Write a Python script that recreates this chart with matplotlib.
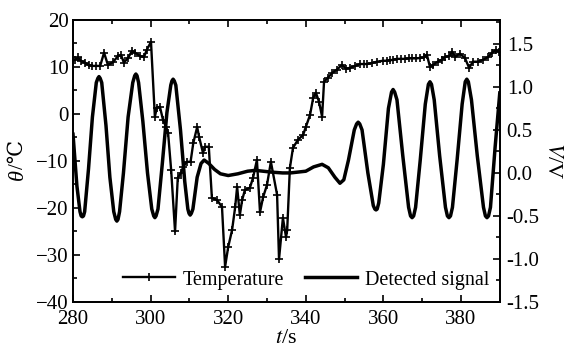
import matplotlib
matplotlib.use("Agg")
import matplotlib.pyplot as plt
from matplotlib.ticker import MultipleLocator, FormatStrFormatter

plt.rcParams['font.family'] = ['Liberation Serif', 'DejaVu Serif']
plt.rcParams['mathtext.fontset'] = 'stix'
plt.rcParams['axes.unicode_minus'] = True

# Temperature (left axis, degC)
temp_t = [280.5, 281.3, 282.0, 283.0, 284.0, 285.0, 286.0, 287.0, 288.0, 289.0,
          290.3, 291.6, 292.4, 293.1, 294.2, 295.2, 296.0, 297.3, 298.3, 299.0,
          300.1, 301.1, 301.6, 302.4, 303.2, 304.0, 304.5, 305.3, 306.3, 307.0,
          307.8, 308.4, 309.3, 310.3, 311.0, 312.0, 312.5, 313.5, 314.0, 315.0,
          315.8, 317.1, 318.4, 319.2, 320.0, 321.0, 321.8, 322.3, 323.0, 323.6,
          324.3, 325.6, 326.4, 327.4, 328.2, 329.0, 330.0, 331.0, 332.6, 333.1,
          334.1, 334.9, 335.2, 335.9, 336.7, 338.0, 339.3, 340.0, 341.1, 341.9,
          342.6, 343.4, 344.2, 344.7, 345.7, 346.8, 348.0, 349.3, 350.4, 351.4,
          352.7, 354.0, 355.0, 355.8, 357.0, 358.4, 359.9, 361.0, 361.7, 362.5,
          363.5, 364.5, 365.5, 366.5, 367.5, 368.5, 369.5, 370.5, 371.2, 372.0,
          372.8, 374.0, 375.0, 375.9, 377.0, 377.7, 378.5, 379.7, 381.0, 382.1,
          383.1, 384.4, 385.7, 387.0, 388.0, 389.0, 389.7]
temp_v = [11.5, 12.0, 11.3, 10.9, 10.4, 10.2, 10.2, 10.2, 13.0, 10.4,
          11.0, 12.3, 12.5, 10.9, 11.9, 13.4, 13.0, 12.3, 12.1, 13.6,
          15.3, -0.6, 1.3, 1.5, -1.3, -2.8, -4.0, -12.0, -25.0, -13.6,
          -12.6, -11.3, -10.2, -10.2, -6.2, -2.8, -4.9, -8.3, -7.0, -7.0,
          -17.9, -18.3, -19.8, -32.5, -28.3, -24.7, -19.8, -15.5, -21.5, -18.3,
          -16.2, -15.7, -13.6, -9.8, -20.9, -17.7, -15.1, -10.2, -17.2, -30.9,
          -22.1, -26.2, -24.8, -11.5, -7.2, -5.5, -4.5, -2.8, -0.2, 3.4,
          4.5, 2.6, -0.6, 6.8, 7.7, 8.7, 9.4, 10.4, 9.6, 9.8,
          10.2, 10.6, 10.6, 10.6, 10.8, 11.1, 11.3, 11.3, 11.4, 11.5,
          11.7, 11.7, 11.7, 11.8, 11.8, 11.8, 11.9, 12.0, 12.6, 10.0,
          10.4, 11.1, 11.5, 12.1, 12.3, 13.2, 12.1, 12.8, 11.9, 9.8,
          11.1, 11.1, 11.5, 12.1, 13.0, 13.6, 13.2]

# Detected signal (right axis, V)
sig_t = [280.0, 281.0, 281.8, 282.1, 282.4, 282.7, 283.0, 284.0, 285.0, 286.0,
         286.4, 286.7, 287.0, 287.4, 288.5, 289.5, 290.5, 291.0, 291.3, 291.6,
         292.0, 293.0, 294.2, 295.4, 295.9, 296.2, 296.5, 296.9, 298.0, 299.2,
         300.3, 300.8, 301.1, 301.4, 301.9, 303.0, 304.2, 305.2, 305.5, 305.8,
         306.1, 306.5, 307.7, 308.8, 309.6, 309.9, 310.2, 310.5, 310.9, 312.0,
         313.0, 313.8, 315.0, 316.5, 318.0, 320.0, 322.5, 325.0, 327.0, 329.0,
         331.0, 334.0, 336.0, 338.0, 340.0, 342.0, 344.2, 345.8, 347.5, 348.8,
         349.8, 351.0, 352.5, 353.1, 353.5, 353.9, 354.5, 356.0, 357.4, 357.8,
         358.1, 358.4, 358.8, 360.0, 361.3, 362.1, 362.5, 362.9, 363.5, 365.0,
         366.5, 367.0, 367.4, 367.8, 368.3, 369.5, 370.8, 371.6, 372.0, 372.4,
         373.1, 374.5, 376.0, 376.5, 376.9, 377.3, 377.8, 379.0, 380.3, 381.1,
         381.5, 381.9, 382.7, 384.2, 385.8, 386.3, 386.7, 387.1, 387.6, 388.8,
         390.0]
sig_v = [0.45, -0.15, -0.45, -0.50, -0.51, -0.50, -0.45, 0.05, 0.65, 1.05,
         1.10, 1.12, 1.10, 1.05, 0.55, -0.05, -0.45, -0.54, -0.56, -0.54,
         -0.45, 0.0, 0.65, 1.05, 1.13, 1.15, 1.13, 1.05, 0.6, 0.0,
         -0.42, -0.50, -0.52, -0.50, -0.42, 0.1, 0.7, 1.02, 1.07, 1.09,
         1.07, 1.02, 0.5, -0.1, -0.42, -0.47, -0.49, -0.47, -0.42, -0.05,
         0.11, 0.15, 0.11, 0.04, -0.01, -0.03, -0.01, 0.02, 0.03, 0.02,
         0.01, 0.0, 0.0, 0.01, 0.02, 0.07, 0.10, 0.06, -0.05, -0.12,
         -0.08, 0.15, 0.5, 0.57, 0.59, 0.57, 0.5, 0.0, -0.38, -0.42,
         -0.43, -0.42, -0.35, 0.1, 0.75, 0.94, 0.97, 0.94, 0.85, 0.2,
         -0.4, -0.50, -0.52, -0.50, -0.4, 0.15, 0.8, 1.03, 1.06, 1.03,
         0.85, 0.2, -0.4, -0.50, -0.52, -0.50, -0.4, 0.15, 0.8, 1.06,
         1.09, 1.06, 0.85, 0.2, -0.4, -0.50, -0.52, -0.50, -0.4, 0.3,
         0.93]

fig = plt.figure(figsize=(5.66, 3.54), dpi=100)
ax = fig.add_axes([0.129, 0.147, 0.754, 0.797])
ax2 = ax.twinx()

l1, = ax.plot(temp_t, temp_v, color='black', lw=1.7, marker='+', ms=6, mew=1.2,
              label='Temperature')
l2, = ax2.plot(sig_t, sig_v, color='black', lw=2.5, solid_joinstyle='round',
               label='Detected signal')

ax.set_xlim(280, 390)
ax.set_ylim(-40, 20)
ax2.set_ylim(-1.5, 1.78)

ax.xaxis.set_major_locator(MultipleLocator(20))
ax.xaxis.set_minor_locator(MultipleLocator(10))
ax.yaxis.set_major_locator(MultipleLocator(10))
ax.yaxis.set_minor_locator(MultipleLocator(5))
ax2.yaxis.set_major_locator(MultipleLocator(0.5))
ax2.yaxis.set_minor_locator(MultipleLocator(0.25))
ax2.yaxis.set_major_formatter(FormatStrFormatter('%.1f'))

ax.tick_params(which='both', direction='in', top=True, labelsize=15, width=1.2)
ax.tick_params(which='major', length=5)
ax.tick_params(which='minor', length=3)
ax.tick_params(axis='x', pad=6)
ax.tick_params(axis='y', pad=3)
ax2.tick_params(which='both', direction='in', labelsize=15, width=1.2, pad=5)
ax2.tick_params(which='major', length=5)
ax2.tick_params(which='minor', length=3)
ax2.set_ylim(-1.5, 1.78)

for a in (ax, ax2):
    for s in a.spines.values():
        s.set_linewidth(1.3)

ax.set_xlabel(r'$t$/s', fontsize=16, labelpad=0)
ax2.set_ylabel(r'$V$/V', fontsize=16, rotation=270, labelpad=16)

# left label split so that the degree-Celsius sign falls back to DejaVu
ax.text(-0.128, 0.47, 'θ', transform=ax.transAxes, rotation=90, fontsize=16,
        fontstyle='italic', ha='center', va='top')
ax.text(-0.128, 0.47, '/℃', transform=ax.transAxes, rotation=90, fontsize=15,
        ha='center', va='bottom', family=['Liberation Serif', 'DejaVu Serif'])

ax.legend(handles=[l1, l2], loc='center', bbox_to_anchor=(0.546, 0.078),
          ncol=2, frameon=False, fontsize=14.5, numpoints=1, handlelength=2.6,
          columnspacing=1.0, handletextpad=0.4)

fig.savefig('out.png', dpi=100)
